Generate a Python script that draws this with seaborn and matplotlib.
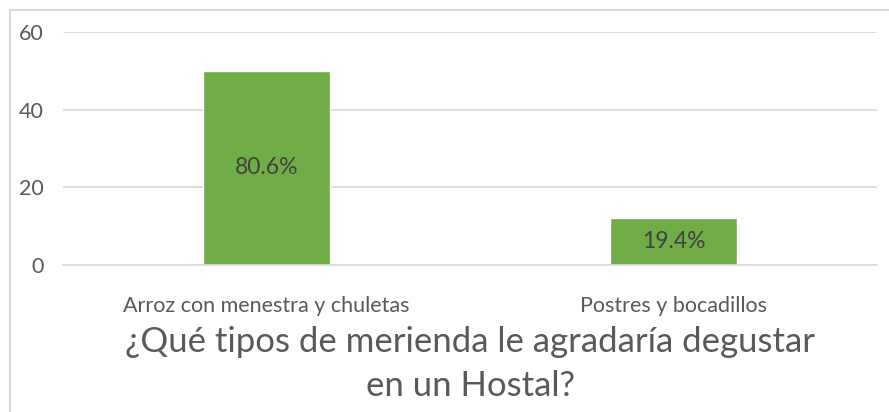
import pandas as pd
import seaborn as sns
import matplotlib.pyplot as plt
from matplotlib.patches import Rectangle

categories = ["Arroz con menestra y chuletas", "Postres y bocadillos"]
counts = [50, 12]
pct_labels = ["80.6%", "19.4%"]
title = "¿Qué tipos de merienda le agradaría degustar\nen un Hostal?"

GREEN = "#70AD47"
GREY_TEXT = "#595959"
GRID = "#D9D9D9"


def main():
    sns.set_theme(style="white")
    plt.rcParams["font.family"] = ["Lato", "DejaVu Sans"]

    df = pd.DataFrame({"categoria": categories, "n": counts})

    fig = plt.figure(figsize=(8.89, 4.12), dpi=100)
    ax = fig.add_axes([63 / 889, 1 - 265 / 412, 814 / 889, 233 / 412])

    sns.barplot(data=df, x="categoria", y="n", color=GREEN, saturation=1,
                width=0.31, ax=ax)
    ax.bar_label(ax.containers[0], labels=pct_labels, label_type="center",
                 fontsize=16.5, color="#404040")

    ax.set_ylim(0, 60)
    ax.set_xlim(-0.5, 1.5)
    ax.set_yticks([0, 20, 40, 60])
    ax.yaxis.grid(True, color=GRID, linewidth=1.2)
    ax.set_axisbelow(True)
    for side in ["top", "right", "left"]:
        ax.spines[side].set_visible(False)
    ax.spines["bottom"].set_color(GRID)
    ax.spines["bottom"].set_linewidth(1.2)
    ax.set_xlabel("")
    ax.set_ylabel("")
    ax.tick_params(axis="y", length=0, pad=14, labelsize=15.5, labelcolor=GREY_TEXT)
    ax.tick_params(axis="x", length=0, pad=22, labelsize=15.5, labelcolor=GREY_TEXT)

    fig.text(470 / 889, 1 - 364 / 412, title, ha="center", va="center",
             fontsize=25, color=GREY_TEXT, linespacing=1.45)

    # chart border (only top and left fall inside the picture)
    fig.patches.append(Rectangle((10 / 889, -0.1), 1.1, 1 - 10 / 412 + 0.1,
                                 transform=fig.transFigure, fill=False,
                                 edgecolor=GRID, linewidth=1.5))

    fig.savefig("out.png", dpi=100)
    plt.close(fig)


if __name__ == "__main__":
    main()
